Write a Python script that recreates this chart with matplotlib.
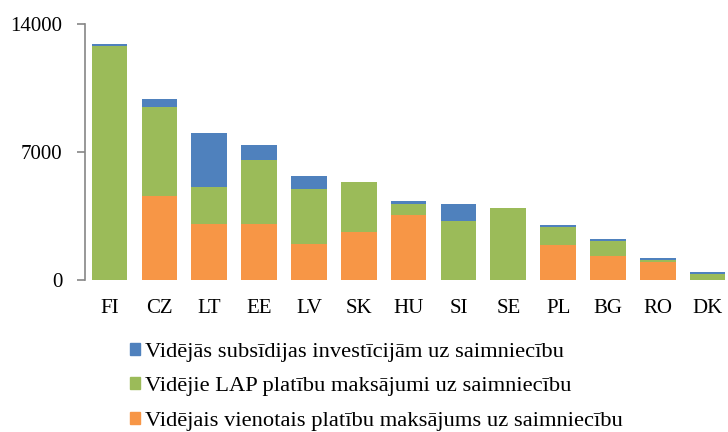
import numpy as np
import matplotlib
matplotlib.use('Agg')

import matplotlib.pyplot as plt
from matplotlib.patches import Patch

countries = ["FI", "CZ", "LT", "EE", "LV", "SK", "HU", "SI", "SE", "PL", "BG", "RO", "DK"]
# average single area payment per holding
single_area = [0, 4610, 3060, 3060, 1990, 2610, 3540, 0, 0, 1900, 1300, 990, 0]
# average RDP area payments per holding
rdp_area = [12820, 4870, 2010, 3485, 3005, 2770, 600, 3227, 3920, 1017, 833, 122, 347]
# average investment subsidies per holding
investment = [80, 405, 2955, 855, 712, 0, 163, 930, 0, 73, 91, 110, 91]

labels = ["Vidējās subsīdijas investīcijām uz saimniecību",
          "Vidējie LAP platību maksājumi uz saimniecību",
          "Vidējais vienotais platību maksājums uz saimniecību"]

c_blue = "#4F81BD"
c_green = "#9BBB59"
c_orange = "#F79646"


def main():
    plt.rcParams['font.family'] = ['Liberation Serif', 'DejaVu Serif']

    fig = plt.figure(figsize=(7.28, 4.32), dpi=100)
    ax = fig.add_axes([84.6 / 728, 152 / 432, 648 / 728, 256 / 432])

    ind = np.arange(len(countries))
    width = 0.715
    bottom2 = np.array(single_area)
    bottom3 = bottom2 + np.array(rdp_area)

    ax.bar(ind, single_area, width, color=c_orange)
    ax.bar(ind, rdp_area, width, bottom=bottom2, color=c_green)
    ax.bar(ind, investment, width, bottom=bottom3, color=c_blue)

    ax.set_xlim(-0.5, 12.5)
    ax.set_ylim(0, 14000)
    ax.set_yticks([0, 7000, 14000])
    ax.set_xticks(ind)
    ax.set_xticklabels(countries)

    for s in ("top", "right", "bottom"):
        ax.spines[s].set_visible(False)
    ax.spines["left"].set_color("#868686")
    ax.spines["left"].set_linewidth(1.2)
    ax.tick_params(axis="y", length=6, width=1.2, color="#868686",
                   labelsize=15, pad=10)
    ax.tick_params(axis="x", length=0, labelsize=15, pad=14)

    # legend below the plot, blue series first
    handles = [Patch(color=c_blue), Patch(color=c_green), Patch(color=c_orange)]
    fig.legend(handles, labels, loc="upper left",
               bbox_to_anchor=(129.5 / 728, 1 - 343 / 432),
               bbox_transform=fig.transFigure, frameon=False,
               fontsize=16.2, handlelength=0.45, handleheight=0.45,
               handletextpad=0.25, labelspacing=0.68,
               borderpad=0, borderaxespad=0)

    fig.savefig("out.png", dpi=100)


if __name__ == "__main__":
    main()
